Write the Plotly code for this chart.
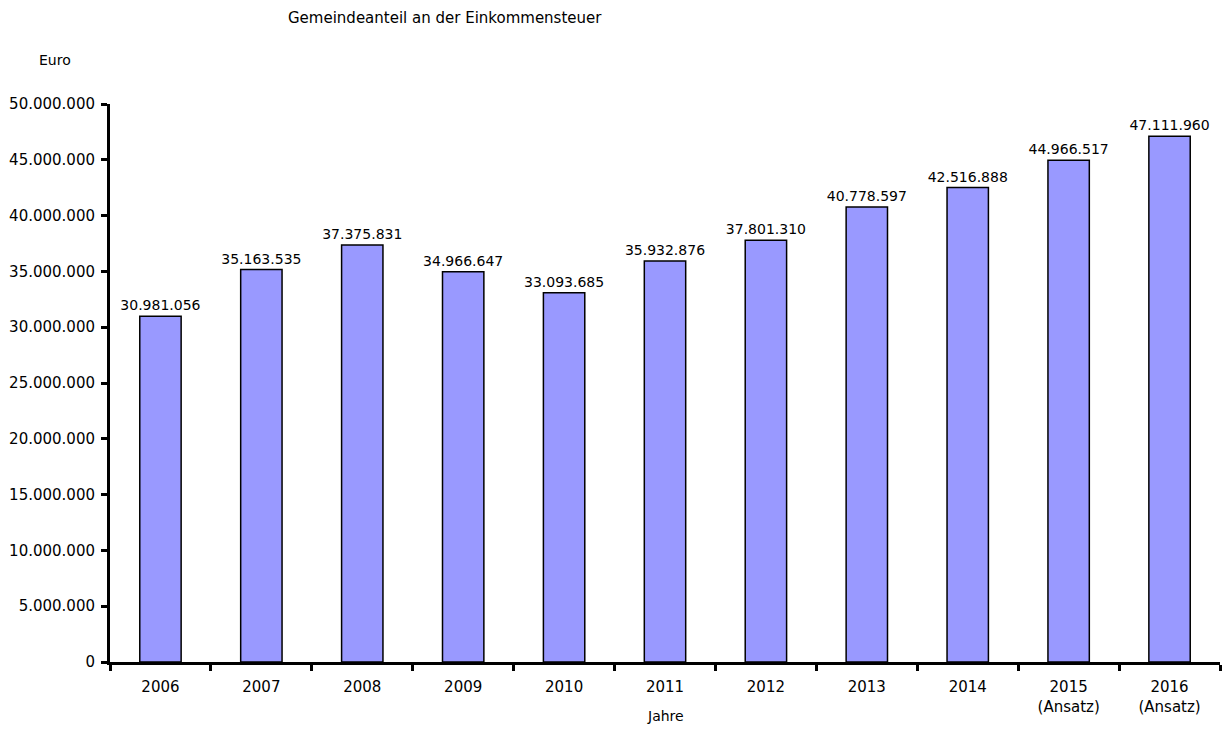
import plotly.graph_objects as go

categories = ["2006", "2007", "2008", "2009", "2010", "2011", "2012", "2013", "2014",
              "2015<br>(Ansatz)", "2016<br>(Ansatz)"]
values = [30981056, 35163535, 37375831, 34966647, 33093685, 35932876, 37801310,
          40778597, 42516888, 44966517, 47111960]
y_ticks = [0, 5000000, 10000000, 15000000, 20000000, 25000000, 30000000, 35000000,
           40000000, 45000000, 50000000]

font_family = "DejaVu Sans, sans-serif"

# page body has an 8px margin; figure is sized to fit inside the window
OFF = 8
W, H = 1231 - OFF, 751 - OFF
L, R, T, B = 110 - OFF, 11, 104 - OFF, 89
pw = W - L - R
ph = H - T - B


def px(x):
    return (x - OFF - L) / pw


def py(y):
    return (H - B - (y - OFF)) / ph


fig = go.Figure(go.Bar(
    x=categories, y=values,
    marker=dict(color="#9999FF", line=dict(color="black", width=1.5)),
    texttemplate="%{y:,d}", textposition="outside", cliponaxis=False,
    constraintext="none",
    textfont=dict(size=14, color="black", family=font_family),
))

fig.update_layout(
    width=W, height=H,
    paper_bgcolor="white", plot_bgcolor="white",
    separators=",.",
    margin=dict(l=L, r=R, t=T, b=B),
    bargap=0.59,
    showlegend=False,
    font=dict(family=font_family, size=14, color="black"),
    annotations=[
        dict(text="Gemeindeanteil an der Einkommensteuer", x=px(445), y=py(18),
             xref="paper", yref="paper", showarrow=False,
             xanchor="center", yanchor="middle", font=dict(size=15)),
        dict(text="Euro", x=px(37), y=py(60), xref="paper", yref="paper",
             showarrow=False, xanchor="left", yanchor="middle", font=dict(size=14)),
        dict(text="Jahre", x=px(665), y=py(716), xref="paper", yref="paper",
             showarrow=False, xanchor="center", yanchor="middle", font=dict(size=14)),
    ],
)
fig.update_xaxes(
    automargin=False,
    showline=True, linecolor="black", linewidth=3,
    ticks="outside", tickson="boundaries", ticklen=6, tickwidth=3, tickcolor="black",
    tickfont=dict(size=15), ticklabelstandoff=9,
)
fig.update_yaxes(
    automargin=False,
    range=[0, 50000000], tickvals=y_ticks, tickformat=",d",
    showline=True, linecolor="black", linewidth=3, showgrid=False, zeroline=False,
    ticks="outside", ticklen=6, tickwidth=3, tickcolor="black",
    tickfont=dict(size=15), ticklabelstandoff=3,
)

fig.write_html("out.html")
